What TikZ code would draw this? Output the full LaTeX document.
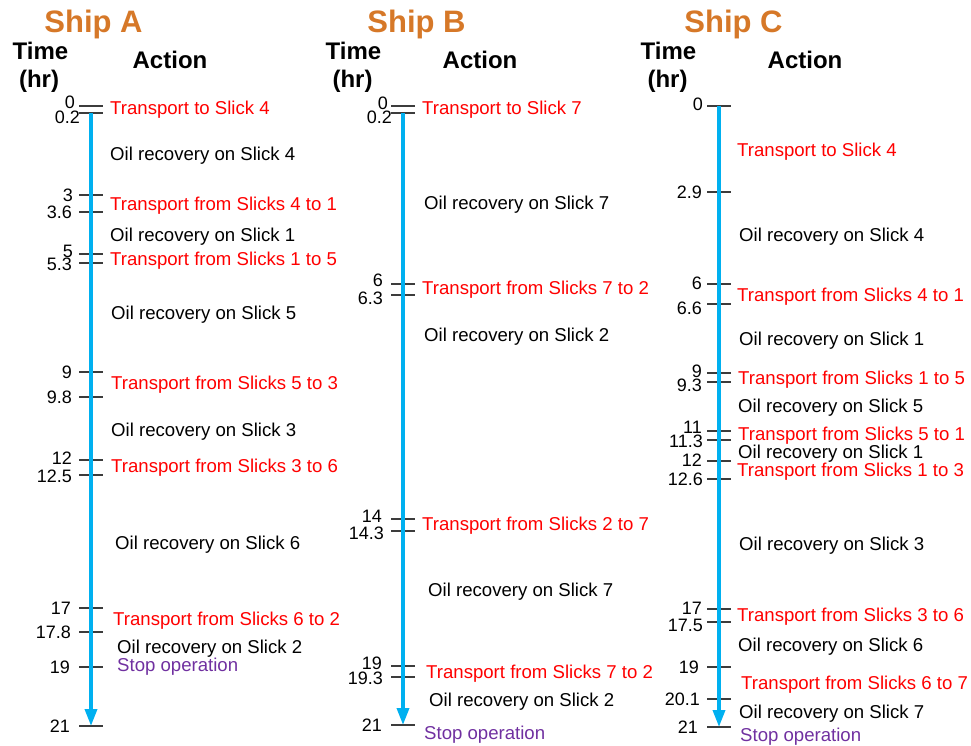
\documentclass[tikz,border=0pt]{standalone}
\usepackage{fontspec}
\setmainfont{Liberation Sans}
\usetikzlibrary{arrows.meta, calc, positioning}
\definecolor{shiporange}{RGB}{214,120,40}
\definecolor{axisblue}{RGB}{0,176,240}
\definecolor{tickgray}{RGB}{60,60,60}
\definecolor{stoppurple}{RGB}{112,48,160}
\definecolor{red}{RGB}{255,0,0}
\tikzstyle{shiptitle} = [inner sep=0pt, font=\fontsize{31}{31}\selectfont\bfseries, text=shiporange, text height=22pt, text depth=0pt]
\tikzstyle{colhead} = [inner sep=0pt, font=\fontsize{24}{24}\selectfont\bfseries, text height=17pt, text depth=0pt]
\tikzstyle{recovery} = [anchor=west, inner sep=0pt, font=\fontsize{18.6}{18.6}\selectfont, text height=13.3pt, text depth=0pt]
\tikzstyle{transport} = [recovery, text=red]
\tikzstyle{stopop} = [recovery, text=stoppurple]
\tikzstyle{timelab} = [anchor=east, inner sep=0pt, font=\fontsize{18}{18}\selectfont, text height=12.9pt, text depth=0pt]
\tikzstyle{tick} = [line width=1.3pt, draw=tickgray]
\tikzstyle{axis} = [line width=3.5pt, draw=axisblue, -{Triangle[length=17pt,width=12pt]}]
\begin{document}
\begin{tikzpicture}[x=1pt, y=-1pt]
\useasboundingbox (0,0) rectangle (971,746);

% headers
\node (shipA) [shiptitle] at (93.5,21.5) {Ship A};
\node (shipB) [shiptitle] at (416.5,21.5) {Ship B};
\node (shipC) [shiptitle] at (733.5,21.5) {Ship C};
\node (timeA) [colhead] at (40.5,51.5) {Time};
\node (hrA) [colhead] at (39,79.5) {(hr)};
\node (actA) [colhead] at (170,60) {Action};
\node (timeB) [colhead] at (353.5,51.5) {Time};
\node (hrB) [colhead] at (352.5,79.5) {(hr)};
\node (actB) [colhead] at (480,60) {Action};
\node (timeC) [colhead] at (668.5,51.5) {Time};
\node (hrC) [colhead] at (667.5,79.5) {(hr)};
\node (actC) [colhead] at (805,60) {Action};

% ship A time line
\foreach \t/\ty/\dy/\dx [count=\i] in {0/106/-4/-4, 0.2/113/4/1, 3/195/0/-6, 3.6/212/0/-7,
    5/254/-3/-6, 5.3/263/1/-7, 9/372/0/-7, 9.8/397/0/-7, 12/460/-2/-7, 12.5/475/1/-7,
    17/608/0/-8, 17.8/632/0/-8, 19/667/0/-9, 21/726/0/-9}{
  \coordinate (A\i) at (91,\ty);
  \draw[tick] (A\i) ++(-12,0) -- ++(24,0);
  \node (At\i) [timelab] at ($(A\i)+({-12+(\dx)},\dy)$) {\t};
}
\draw[axis] (A2) -- (A14);
\node (goA4) [transport] at (110,108) {Transport to Slick 4};
\node (recA4) [recovery] at (110,153.5) {Oil recovery on Slick 4};
\node (goA41) [transport] at (110,203.5) {Transport from Slicks 4 to 1};
\node (recA1) [recovery] at (110,235) {Oil recovery on Slick 1};
\node (goA15) [transport] at (110,258.5) {Transport from Slicks 1 to 5};
\node (recA5) [recovery] at (111,313) {Oil recovery on Slick 5};
\node (goA53) [transport] at (111,383) {Transport from Slicks 5 to 3};
\node (recA3) [recovery] at (111,430) {Oil recovery on Slick 3};
\node (goA36) [transport] at (111,466) {Transport from Slicks 3 to 6};
\node (recA6) [recovery] at (115,543) {Oil recovery on Slick 6};
\node (goA62) [transport] at (113,619) {Transport from Slicks 6 to 2};
\node (recA2) [recovery] at (117,647) {Oil recovery on Slick 2};
\node (stopA) [stopop] at (117,665) {Stop operation};

% ship B time line
\foreach \t/\ty/\dy/\dx [count=\i] in {0/106/-3/-3, 0.2/113/4/1, 6/284/-4/-8, 6.3/295/3/-8,
    14/519/-3/-9, 14.3/531/2/-7, 19/666/-3/-9, 19.3/677/1/-8, 21/725/0/-9}{
  \coordinate (B\i) at (403,\ty);
  \draw[tick] (B\i) ++(-12,0) -- ++(24,0);
  \node (Bt\i) [timelab] at ($(B\i)+({-12+(\dx)},\dy)$) {\t};
}
\draw[axis] (B2) -- (B9);
\node (goB7) [transport] at (422,108) {Transport to Slick 7};
\node (recB7) [recovery] at (424,203) {Oil recovery on Slick 7};
\node (goB72) [transport] at (422,288) {Transport from Slicks 7 to 2};
\node (recB2) [recovery] at (424,335) {Oil recovery on Slick 2};
\node (goB27) [transport] at (422,524) {Transport from Slicks 2 to 7};
\node (recB7b) [recovery] at (428,590) {Oil recovery on Slick 7};
\node (goB72b) [transport] at (426,672) {Transport from Slicks 7 to 2};
\node (recB2b) [recovery] at (429,700) {Oil recovery on Slick 2};
\node (stopB) [stopop] at (424,733) {Stop operation};

% ship C time line
\foreach \t/\ty/\dy/\dx [count=\i] in {0/106/-2/-4, 2.9/192/0/-5, 6/284/-1/-5, 6.6/304/4/-5,
    9/373/-2/-5, 9.3/382/3/-5, 11/431/-4/-5, 11.3/440/1/-4, 12/461/-1/-5, 12.6/479/0/-4,
    17/609/-1/-5, 17.5/622/3/-4, 19/667/0/-8, 20.1/699/0/-7, 21/727/0/-9}{
  \coordinate (C\i) at (719,\ty);
  \draw[tick] (C\i) ++(-12,0) -- ++(24,0);
  \node (Ct\i) [timelab] at ($(C\i)+({-12+(\dx)},\dy)$) {\t};
}
\draw[axis] (C1) -- (C15);
\node (goC4) [transport] at (737,150) {Transport to Slick 4};
\node (recC4) [recovery] at (739,235) {Oil recovery on Slick 4};
\node (goC41) [transport] at (737,294.5) {Transport from Slicks 4 to 1};
\node (recC1) [recovery] at (739,339) {Oil recovery on Slick 1};
\node (goC15) [transport] at (738,378) {Transport from Slicks 1 to 5};
\node (recC5) [recovery] at (738,406) {Oil recovery on Slick 5};
\node (goC51) [transport] at (738,434) {Transport from Slicks 5 to 1};
\node (recC1b) [recovery] at (738,452) {Oil recovery on Slick 1};
\node (goC13) [transport] at (737,470) {Transport from Slicks 1 to 3};
\node (recC3) [recovery] at (739,544) {Oil recovery on Slick 3};
\node (goC36) [transport] at (737,615) {Transport from Slicks 3 to 6};
\node (recC6) [recovery] at (738,645) {Oil recovery on Slick 6};
\node (goC67) [transport] at (741,683) {Transport from Slicks 6 to 7};
\node (recC7) [recovery] at (739,712) {Oil recovery on Slick 7};
\node (stopC) [stopop] at (740,735) {Stop operation};

\end{tikzpicture}
\end{document}
